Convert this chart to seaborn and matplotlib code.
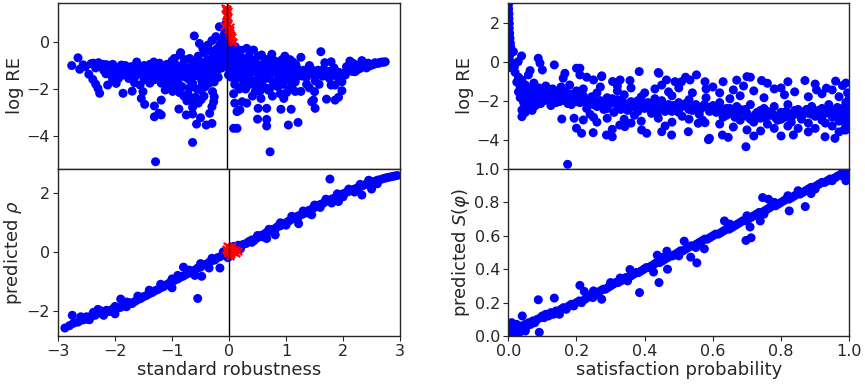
import matplotlib
matplotlib.use("Agg")
import matplotlib.pyplot as plt
import pandas as pd
import seaborn as sns

# --- data (x, y) ------------------------------------------------------------
# left column: standard robustness vs log RE (top) and predicted rho (bottom)
robust_logre_blue = [
    (-2.72, -1.00), (-2.61, -0.67), (-2.58, -1.16), (-2.52, -0.97), (-2.48, -1.05),
    (-2.42, -1.37), (-2.35, -1.59), (-2.30, -1.79), (-2.26, -1.97), (-2.23, -2.18),
    (-2.38, -0.92), (-2.34, -0.90), (-2.25, -0.88), (-2.16, -0.95), (-2.10, -0.97),
    (-2.30, -1.10), (-2.20, -1.05), (-2.16, -1.20), (-2.12, -1.35), (-2.05, -1.25),
    (-2.09, -1.83), (-2.00, -1.62), (-1.94, -1.76), (-2.02, -1.45), (-1.95, -1.30),
    (-1.90, -1.15), (-1.85, -0.98), (-1.82, -2.18), (-1.80, -1.40), (-1.75, -1.20),
    (-1.72, -1.55), (-1.66, -2.09), (-1.62, -1.73), (-1.52, -1.83), (-1.47, -2.11),
    (-1.50, -2.40), (-1.44, -2.65), (-1.68, -1.05), (-1.60, -1.25), (-1.55, -1.10),
    (-1.50, -1.35), (-1.45, -1.00), (-1.40, -1.20), (-1.38, -1.55), (-1.35, -0.95),
    (-1.30, -1.30), (-1.27, -1.60), (-1.25, -1.05), (-1.20, -1.40), (-1.18, -0.90),
    (-1.15, -1.75), (-1.10, -1.20), (-1.08, -2.04), (-1.05, -0.95), (-1.02, -1.50),
    (-1.00, -1.10), (-0.98, -1.85), (-0.95, -1.30), (-0.92, -0.70), (-0.90, -1.60),
    (-0.88, -1.00), (-0.85, -1.40), (-0.82, -0.55), (-0.81, -0.45), (-0.80, -1.20),
    (-0.78, -1.90), (-0.75, -0.85), (-0.72, -1.50), (-0.70, -1.10), (-0.68, -2.20),
    (-0.65, -0.70), (-0.63, -1.35), (-0.60, -1.75), (-0.58, -0.95), (-0.55, -1.20),
    (-0.52, -2.00), (-0.50, -0.60), (-0.48, -1.45), (-0.46, -0.85), (-0.44, -1.65),
    (-0.42, -1.10), (-0.40, -0.45), (-0.38, -1.90), (-0.36, -1.30), (-0.34, -0.75),
    (-0.32, -1.55), (-0.30, -1.00), (-0.28, -0.40), (-0.26, -1.25), (-0.24, -0.65),
    (-0.22, -1.70), (-0.20, -0.90), (-0.18, -0.30), (-0.16, -1.20), (-0.14, -0.55),
    (-0.12, -0.10), (-0.10, -0.80), (-0.08, 0.10), (-0.06, -0.40), (-0.04, 0.35),
    (-0.02, -0.20), (-0.03, 0.60), (-0.01, 0.80),
    (-1.58, -0.85), (-1.52, -1.15), (-1.42, -1.30), (-1.33, -1.10), (-1.28, -0.85),
    (-1.22, -1.25), (-1.12, -1.05), (-1.08, -1.35), (-0.98, -1.20), (-0.96, -0.80),
    (-0.90, -1.35), (-0.87, -1.15), (-0.78, -1.05), (-0.77, -1.45), (-0.73, -0.75),
    (-0.68, -1.25), (-0.66, -1.60), (-0.62, -1.05), (-0.57, -1.45), (-0.53, -0.80),
    (-0.51, -1.30), (-0.47, -1.05), (-0.43, -1.85), (-0.41, -1.40), (-0.37, -0.95),
    (-0.33, -1.20), (-0.31, -1.75), (-0.27, -0.90), (-0.23, -1.45), (-0.21, -1.05),
    (-0.17, -0.70), (-0.15, -1.50), (-0.11, -0.45), (-0.09, -1.10), (-0.07, -0.65),
    (-0.05, -0.15), (-0.03, -0.95), (-0.02, 0.30),
    (-2.00, -0.95), (-1.78, -1.00), (-1.62, -1.05), (-1.48, -1.20), (-1.32, -1.45),
    (-1.18, -1.60), (-0.92, -1.95), (-0.83, -2.15), (-0.62, -2.45), (-0.45, -2.45),
    (-1.27, -2.72), (-1.15, -2.47), (-1.27, -3.18), (-1.19, -3.03), (-1.15, -3.10),
    (-1.25, -5.09), (-0.84, -2.85), (-0.71, -3.10), (-0.60, -2.78), (-0.60, -3.06),
    (-0.60, -4.27), (-0.53, -3.49), (-0.46, -3.22), (-0.36, -3.53), (-0.26, -3.46),
    (-0.30, -3.03), (-0.26, -2.75), (-0.23, -2.54), (-0.22, -2.33), (-0.25, -2.11),
    (-0.57, 0.26), (-0.48, -0.06), (-0.42, -0.27), (-0.33, -0.13), (-0.26, 0.06),
    (-0.19, 0.23), (-0.13, 0.65),
    (-1.90, -1.55), (-1.70, -1.35), (-1.35, -1.75), (-1.05, -1.70), (-0.95, -2.10),
    (-0.75, -2.30), (-0.70, -2.50), (-0.65, -1.95), (-0.55, -2.35), (-0.50, -2.60),
    (-0.45, -2.05), (-0.40, -2.30), (-0.85, -1.75), (-1.12, -1.55), (-1.45, -1.60),
    (-1.60, -1.45), (-2.05, -1.05), (-1.85, -1.25),
    (0.02, 0.50), (0.04, 0.20), (0.06, -0.10), (0.08, 0.05), (0.10, -0.30),
    (0.05, -0.50), (0.12, -0.60), (0.15, -0.20), (0.18, -0.45), (0.20, -0.80),
    (0.02, -0.90), (0.05, -1.20), (0.08, -1.50), (0.10, -1.00), (0.14, -1.80),
    (0.03, -1.40), (0.12, -2.20),
    (0.03, -0.15), (0.06, -0.70), (0.09, -0.45), (0.11, -1.30), (0.13, -0.90),
    (0.16, -1.10), (0.19, -1.45), (0.22, -0.60), (0.24, -1.25), (0.27, -1.90),
    (0.29, -0.70), (0.31, -1.45), (0.34, -0.95), (0.37, -1.20), (0.39, -0.60),
    (0.43, -1.30), (0.46, -1.65), (0.49, -0.85), (0.53, -1.10), (0.56, -1.45),
    (0.59, -1.75), (0.62, -0.95), (0.66, -1.45), (0.69, -0.75), (0.72, -1.15),
    (0.75, -1.55), (0.78, -1.00), (0.81, -1.85), (0.84, -0.80), (0.87, -1.20),
    (0.90, -1.60), (0.93, -0.90), (0.96, -1.35), (0.99, -1.80), (1.03, -1.00),
    (1.07, -1.40), (1.11, -0.75), (1.14, -1.20), (1.18, -1.50), (1.21, -0.95),
    (1.28, -1.25), (1.33, -1.45), (0.04, -0.40), (0.07, -1.00), (0.16, -1.55),
    (0.22, -2.00), (0.36, -1.65), (0.58, -2.10), (0.75, -2.00), (0.95, -1.65),
    (1.20, -2.10), (0.50, -2.10),
    (0.25, -0.35), (0.30, -1.10), (0.35, -0.27), (0.38, -1.45), (0.42, -0.75),
    (0.47, -0.34), (0.50, -1.25), (0.52, -1.90), (0.55, -0.60), (0.58, -1.05),
    (0.61, -0.55), (0.64, -1.60), (0.67, -0.85), (0.70, -1.30), (0.73, -2.05),
    (0.76, -0.70), (0.79, -0.52), (0.82, -1.15), (0.85, -1.75), (0.88, -0.95),
    (0.91, -1.40), (0.94, -2.20), (0.97, -0.75), (1.00, -1.20), (1.02, -0.60),
    (1.05, -1.60), (1.08, -1.00), (1.10, -2.00), (1.13, -1.35), (1.16, -0.85),
    (1.20, -1.70), (1.23, -1.10), (1.26, -1.45), (1.30, -2.10),
    (0.28, -1.60), (0.33, -2.00), (0.40, -1.80), (0.45, -2.30), (0.60, -2.40),
    (0.68, -1.95), (0.80, -2.30), (0.90, -1.90), (1.00, -2.40), (1.05, -2.15),
    (0.25, -0.90), (0.45, -1.05), (0.65, -1.20), (0.85, -1.30), (0.95, -1.05),
    (0.35, -2.60), (0.27, -2.54), (0.14, -2.60), (0.18, -2.96), (0.23, -2.89),
    (0.12, -3.67), (0.18, -3.67), (0.55, -2.82), (0.54, -3.28), (0.70, -2.82),
    (0.70, -3.29), (0.70, -3.57), (0.95, -2.86), (1.13, -2.86), (1.08, -3.53),
    (1.25, -3.42), (0.76, -4.67),
    (1.54, -2.11), (1.52, -2.47), (1.49, -2.54), (1.55, -2.82), (2.02, -2.07),
    (1.96, -2.35), (1.90, -2.47), (1.75, -2.43),
    (1.35, -1.20), (1.40, -1.50), (1.45, -1.00), (1.50, -1.35), (1.55, -1.65),
    (1.60, -1.20), (1.65, -0.41), (1.68, -1.45), (1.72, -0.88), (1.75, -1.30),
    (1.80, -1.55), (1.83, -0.84), (1.85, -1.40), (1.90, -1.83), (1.92, -1.25),
    (1.95, -1.50), (2.02, -1.69), (2.05, -1.35), (2.08, -1.40), (2.12, -1.20),
    (2.16, -0.81), (2.20, -1.10), (2.22, -0.91), (2.25, -1.26), (2.30, -1.00),
    (2.34, -1.12), (2.37, -0.79), (2.42, -0.95), (2.48, -0.90), (2.54, -0.98),
    (2.60, -0.88), (2.66, -0.91), (2.72, -0.85), (2.78, -0.84), (1.83, -1.83),
    (1.40, -1.80), (1.30, -0.65), (1.15, -1.80), (1.45, -1.95), (1.62, -1.80),
    (1.38, -1.35), (1.48, -1.15), (1.58, -1.40), (1.70, -1.15), (1.78, -1.25),
    (1.88, -1.10), (1.98, -1.30), (2.10, -1.05), (2.28, -1.20), (2.45, -1.10),
    (2.58, -0.95), (2.68, -0.87), (2.75, -0.86), (2.50, -1.02), (2.40, -0.93),
    (2.20, -1.25),
]
robust_logre_red = [
    (-0.03, 1.45), (-0.02, 1.35), (0.00, 1.40), (0.01, 1.25), (-0.01, 1.15),
    (0.02, 1.05), (0.00, 0.95), (-0.02, 0.85), (0.03, 0.75), (0.05, 0.65),
    (0.06, 0.50), (0.04, 0.40), (0.07, 0.30), (0.09, 0.20), (0.08, 0.10),
    (0.11, 0.02), (0.05, 0.25), (0.02, 0.55), (-0.04, 0.70), (0.03, 1.30),
]
robust_pred_blue = [
    (-2.88, -2.58), (-2.80, -2.50), (-2.75, -2.15), (-2.73, -2.42), (-2.65, -2.38),
    (-2.60, -2.32), (-2.55, -2.30), (-2.50, -2.20), (-2.48, -2.28), (-2.42, -2.18),
    (-2.38, -2.05), (-2.35, -2.15), (-2.30, -2.08), (-2.25, -2.00), (-2.20, -2.06),
    (-2.15, -1.98), (-2.10, -2.02), (-2.05, -1.95), (-2.00, -1.98), (-1.95, -1.90),
    (-1.90, -1.88), (-1.85, -1.80), (-1.80, -1.86), (-1.75, -1.72), (-1.70, -1.75),
    (-1.65, -1.68), (-1.60, -1.62), (-1.55, -1.58), (-1.50, -1.52), (-1.45, -1.48),
    (-1.40, -1.42), (-1.35, -1.38), (-1.30, -1.32), (-1.25, -1.28), (-1.20, -1.22),
    (-1.15, -1.18), (-1.10, -1.12), (-1.05, -1.06), (-1.00, -1.02), (-0.95, -0.96),
    (-0.90, -0.92), (-0.85, -0.86), (-0.80, -0.82), (-0.80, -0.52), (-0.75, -0.76),
    (-0.70, -0.72), (-0.65, -0.66), (-0.60, -0.62), (-0.55, -1.58), (-0.55, -0.55),
    (-0.50, -0.52), (-0.48, -0.83), (-0.45, -0.45), (-0.40, -0.42), (-0.35, -0.36),
    (-0.30, -0.30), (-0.25, -0.28), (-0.20, -0.20), (-0.16, -0.55), (-0.15, -0.16),
    (-0.10, -0.10), (-0.05, -0.05), (-0.02, -0.20),
    (-2.60, -2.20), (-2.30, -1.95), (-2.00, -1.85), (-1.80, -1.70), (-1.60, -1.50),
    (-1.40, -1.30), (-1.20, -1.10), (-1.00, -0.92), (-0.90, -0.80), (-0.70, -0.62),
    (-0.50, -0.40), (-0.30, -0.22), (-0.10, 0.00), (-1.90, -1.60), (-1.00, -1.22),
    (-0.35, -0.55), (-0.60, -0.80), (-2.00, -2.10), (-2.20, -2.15), (-2.45, -2.30),
    (0.03, 0.12), (0.08, 0.18), (0.12, 0.15), (0.16, 0.22), (0.20, 0.20),
    (0.25, 0.25), (0.30, 0.28), (0.35, 0.35), (0.40, 0.40), (0.44, 0.38),
    (0.48, 0.46), (0.52, 0.50), (0.56, 0.55), (0.60, 0.58), (0.65, 0.64),
    (0.70, 0.68), (0.75, 0.74), (0.80, 0.78), (0.81, 0.57), (0.85, 0.85),
    (0.90, 0.88), (0.95, 0.94), (1.00, 0.98), (1.05, 1.04), (1.10, 1.10),
    (1.15, 1.12), (1.20, 1.20), (1.25, 1.24), (1.30, 1.28), (1.35, 1.34),
    (1.40, 1.40), (1.45, 1.25), (1.45, 1.44), (1.50, 1.50), (1.55, 1.54),
    (1.60, 1.60), (1.65, 1.64), (1.70, 1.70), (1.75, 1.74), (1.77, 2.46),
    (1.80, 1.78), (1.85, 1.82), (1.90, 1.88), (1.92, 1.70), (1.95, 1.92),
    (2.00, 1.96), (2.05, 2.00), (2.10, 2.04), (2.15, 2.08), (2.20, 2.12),
    (2.25, 2.16), (2.30, 2.20), (2.33, 1.92), (2.35, 2.24), (2.40, 2.28),
    (2.45, 2.32), (2.50, 2.36), (2.50, 2.12), (2.55, 2.38), (2.60, 2.42),
    (2.65, 2.44), (2.70, 2.47), (2.75, 2.50), (2.80, 2.52), (2.85, 2.54),
    (2.90, 2.56), (2.95, 2.58),
    (0.20, 0.10), (0.40, 0.32), (0.60, 0.50), (0.80, 0.70), (1.00, 0.90),
    (1.20, 1.10), (1.40, 1.30), (1.60, 1.50), (1.80, 1.65), (2.00, 1.86),
    (2.20, 2.02), (0.50, 0.55), (0.70, 0.76), (0.90, 0.98), (1.10, 1.20),
    (1.30, 1.38), (1.50, 1.58), (1.70, 1.78), (1.90, 1.96), (2.10, 2.12),
    (2.30, 2.28), (2.45, 2.42), (0.66, 0.45), (1.22, 0.95), (2.60, 2.30),
]
robust_pred_red = [
    (-0.06, 0.10), (-0.04, 0.02), (-0.02, -0.05), (0.00, 0.15), (0.02, 0.05),
    (0.04, -0.08), (0.06, 0.08), (0.08, -0.02), (0.10, 0.05), (0.13, -0.05),
    (0.15, 0.02), (0.01, -0.15), (-0.03, 0.20), (0.05, 0.18), (0.03, -0.02),
]

# right column: satisfaction probability vs log RE (top) and predicted S (bottom)
prob_logre = [
    (0.001, 2.95), (0.001, 2.70), (0.002, 2.45), (0.002, 2.20), (0.003, 1.95),
    (0.003, 1.70), (0.004, 1.45), (0.005, 1.20), (0.006, 0.95), (0.007, 0.75),
    (0.008, 0.60), (0.004, 0.30), (0.006, 0.00), (0.005, -0.30),
    (0.015, 0.51), (0.039, 0.29), (0.029, 0.00), (0.018, -0.26), (0.088, 0.17),
    (0.093, -0.08), (0.100, -0.43), (0.064, -0.46), (0.059, -0.68), (0.135, -0.17),
    (0.166, -0.60), (0.161, -0.85), (0.210, -0.34), (0.274, -0.73), (0.384, -0.51),
    (0.442, -0.60),
    (0.020, -0.55), (0.030, -0.80), (0.025, -1.05), (0.035, -1.30), (0.040, -0.95),
    (0.045, -1.55), (0.050, -1.20), (0.055, -1.75), (0.045, -2.10), (0.040, -2.48),
    (0.040, -2.82), (0.060, -2.30), (0.065, -1.45), (0.070, -1.90), (0.075, -1.10),
    (0.080, -1.60), (0.085, -2.05), (0.090, -1.35), (0.095, -1.75), (0.100, -1.55),
    (0.105, -2.00), (0.110, -1.25), (0.115, -1.70), (0.120, -1.50), (0.125, -1.90),
    (0.130, -1.40), (0.135, -1.65), (0.140, -2.10), (0.145, -1.50), (0.150, -1.80),
    (0.155, -1.30), (0.160, -1.70), (0.165, -2.00), (0.170, -1.55), (0.175, -1.85),
    (0.180, -1.20), (0.185, -2.20), (0.190, -1.65), (0.195, -1.95), (0.200, -1.50),
    (0.060, -1.55), (0.070, -1.65), (0.080, -1.80), (0.090, -1.60), (0.100, -1.85),
    (0.110, -1.70), (0.120, -1.60), (0.130, -1.85), (0.140, -1.75), (0.150, -1.60),
    (0.160, -1.90), (0.170, -1.75), (0.180, -1.85), (0.190, -1.95), (0.060, -2.00),
    (0.080, -2.25), (0.050, -2.60), (0.070, -2.50),
    (0.030, -1.55), (0.035, -1.85), (0.040, -1.65), (0.050, -1.90), (0.055, -1.40),
    (0.065, -2.10), (0.075, -1.85), (0.085, -1.45), (0.095, -2.15), (0.105, -1.65),
    (0.115, -1.95), (0.125, -2.25), (0.140, -1.55), (0.150, -2.05), (0.165, -1.50),
    (0.175, -2.15), (0.185, -1.70), (0.200, -2.05), (0.210, -1.85), (0.230, -2.15),
    (0.245, -1.80), (0.260, -2.30), (0.275, -2.05), (0.290, -2.40), (0.305, -1.90),
    (0.320, -2.25), (0.335, -2.05), (0.350, -2.40), (0.365, -2.30), (0.380, -2.55),
    (0.395, -2.15), (0.410, -2.35), (0.425, -2.20), (0.440, -2.55), (0.455, -2.20),
    (0.470, -2.40), (0.485, -2.25), (0.500, -2.60), (0.515, -2.25), (0.530, -2.45),
    (0.545, -2.30), (0.560, -2.40), (0.575, -2.20), (0.590, -2.35), (0.605, -2.50),
    (0.620, -2.30), (0.635, -2.60), (0.650, -2.40), (0.665, -2.85), (0.680, -2.60),
    (0.695, -2.45), (0.710, -2.95), (0.725, -2.70), (0.740, -2.50), (0.755, -2.85),
    (0.770, -2.60), (0.785, -2.90), (0.800, -2.75), (0.815, -2.55), (0.830, -2.85),
    (0.845, -2.60), (0.860, -2.80), (0.875, -2.45), (0.890, -2.70), (0.905, -2.55),
    (0.920, -2.75), (0.935, -2.45), (0.950, -2.65), (0.965, -2.35), (0.980, -2.80),
    (0.990, -2.50), (0.995, -2.25), (0.985, -2.95), (1.000, -3.10), (1.000, -2.70),
    (0.157, -2.94), (0.174, -5.26), (0.193, -2.90), (0.200, -3.41), (0.215, -3.67),
    (0.220, -2.99), (0.249, -3.64), (0.250, -2.85), (0.288, -3.76), (0.305, -3.85),
    (0.305, -3.47), (0.327, -3.25), (0.342, -3.33), (0.391, -3.50), (0.406, -3.67),
    (0.450, -3.59), (0.479, -3.76),
    (0.200, -0.34), (0.210, -0.68), (0.230, -0.80), (0.250, -0.94), (0.274, -0.77),
    (0.306, -1.02), (0.328, -0.94), (0.357, -0.97), (0.440, -0.56), (0.464, -0.94),
    (0.489, -1.03), (0.508, -1.03), (0.533, -0.94), (0.552, -0.68), (0.577, -1.03),
    (0.630, -1.03), (0.700, -0.77), (0.710, -0.80), (0.743, -0.97), (0.760, -1.11),
    (0.820, -1.03), (0.870, -0.97), (0.980, -1.23), (0.990, -1.10), (0.904, -1.45),
    (0.933, -1.36), (0.320, -1.25), (0.450, -1.20), (0.600, -1.30), (0.690, -1.25),
    (0.800, -1.35), (0.900, -1.15), (0.960, -1.00), (0.520, -0.80), (0.670, -0.95),
    (0.21, -2.10), (0.22, -1.75), (0.23, -2.40), (0.24, -1.95), (0.25, -2.20),
    (0.26, -1.60), (0.27, -2.00), (0.28, -2.45), (0.29, -1.85), (0.30, -2.15),
    (0.31, -2.60), (0.32, -1.95), (0.33, -2.30), (0.34, -1.70), (0.35, -2.50),
    (0.36, -2.05), (0.37, -2.75), (0.38, -2.25), (0.39, -1.80), (0.40, -2.40),
    (0.41, -2.10), (0.42, -2.65), (0.43, -1.90), (0.44, -2.30), (0.45, -2.00),
    (0.46, -2.55), (0.47, -2.20), (0.48, -1.75), (0.49, -2.45), (0.50, -2.10),
    (0.51, -2.80), (0.52, -2.30), (0.53, -1.95), (0.54, -2.50), (0.55, -2.20),
    (0.56, -2.70), (0.57, -2.35), (0.58, -1.85), (0.59, -2.55), (0.60, -2.25),
    (0.22, -1.40), (0.27, -1.30), (0.32, -1.50), (0.36, -1.35), (0.40, -1.60),
    (0.43, -1.40), (0.47, -1.55), (0.50, -1.35), (0.54, -1.60), (0.58, -1.40),
    (0.24, -2.70), (0.29, -2.90), (0.34, -2.95), (0.39, -3.05), (0.44, -2.90),
    (0.48, -3.10), (0.53, -2.95), (0.57, -3.00),
    (0.25, -2.00), (0.30, -2.05), (0.35, -2.20), (0.40, -2.25), (0.45, -2.35),
    (0.50, -2.40), (0.55, -2.45), (0.60, -2.40), (0.28, -2.25), (0.33, -2.45),
    (0.38, -2.00), (0.42, -2.45), (0.48, -2.55), (0.52, -2.15), (0.56, -2.55),
    (0.61, -2.60), (0.62, -2.10), (0.63, -2.85), (0.64, -2.40), (0.65, -1.90),
    (0.66, -2.70), (0.67, -2.30), (0.68, -3.00), (0.69, -2.55), (0.70, -2.80),
    (0.71, -2.20), (0.72, -3.10), (0.73, -2.60), (0.74, -2.90), (0.75, -2.40),
    (0.76, -3.20), (0.77, -2.75), (0.78, -2.30), (0.79, -3.00), (0.80, -2.60),
    (0.81, -2.85), (0.82, -2.20), (0.83, -3.10), (0.84, -2.70), (0.85, -2.45),
    (0.86, -2.95), (0.87, -2.55), (0.88, -3.15), (0.89, -2.30), (0.90, -2.80),
    (0.91, -2.50), (0.92, -3.00), (0.93, -2.65), (0.94, -2.20), (0.95, -2.85),
    (0.96, -2.45), (0.97, -3.05), (0.98, -2.60), (0.99, -2.10), (0.995, -2.80),
    (1.00, -2.40), (0.995, -1.60), (0.99, -3.30), (1.00, -1.90), (0.985, -3.50),
    (0.62, -2.45), (0.66, -2.55), (0.70, -2.65), (0.74, -2.70), (0.78, -2.75),
    (0.82, -2.70), (0.86, -2.70), (0.90, -2.60), (0.94, -2.55), (0.98, -2.40),
    (0.64, -2.75), (0.68, -2.45), (0.72, -2.85), (0.76, -2.55), (0.80, -2.95),
    (0.84, -2.50), (0.88, -2.65), (0.92, -2.40), (0.96, -2.70),
    (0.62, -1.60), (0.66, -1.45), (0.68, -1.75), (0.72, -1.50), (0.75, -1.85),
    (0.78, -1.40), (0.81, -1.70), (0.84, -1.55), (0.88, -1.80), (0.92, -1.65),
    (0.95, -1.45), (0.97, -1.80),
    (0.590, -3.93), (0.587, -4.00), (0.628, -3.76), (0.645, -3.88), (0.697, -4.36),
    (0.720, -3.81), (0.800, -3.81), (0.836, -3.76), (0.929, -3.85), (0.958, -3.93),
    (0.900, -3.42), (0.850, -3.42), (0.780, -3.42), (0.528, -3.59), (0.557, -3.16),
    (0.577, -3.13), (0.990, -3.50), (0.660, -3.35), (0.740, -3.55), (0.950, -3.30),
    (0.260, -3.10), (0.360, -3.15), (0.460, -3.30), (0.620, -3.20), (0.700, -3.50),
    (0.820, -3.30), (0.880, -3.60), (0.930, -3.15), (0.970, -3.60),
]
prob_pred = [
    (0.000, 0.03), (0.002, 0.07), (0.004, 0.00), (0.006, 0.05), (0.008, 0.02),
    (0.010, 0.08), (0.012, 0.04), (0.015, 0.01), (0.018, 0.06), (0.020, 0.03),
    (0.024, 0.07), (0.028, 0.04), (0.032, 0.02), (0.036, 0.06), (0.041, 0.12),
    (0.045, 0.05), (0.050, 0.07), (0.055, 0.06), (0.060, 0.08), (0.066, 0.07),
    (0.072, 0.09), (0.078, 0.08), (0.085, 0.10), (0.088, 0.217), (0.091, 0.022),
    (0.095, 0.11), (0.100, 0.12), (0.105, 0.11), (0.110, 0.13), (0.118, 0.12),
    (0.125, 0.14), (0.132, 0.13), (0.135, 0.227), (0.140, 0.15), (0.148, 0.14),
    (0.155, 0.16), (0.162, 0.17), (0.170, 0.16), (0.178, 0.18), (0.185, 0.19),
    (0.192, 0.18), (0.200, 0.20), (0.208, 0.21), (0.210, 0.303), (0.215, 0.20),
    (0.223, 0.267), (0.225, 0.22), (0.232, 0.23), (0.240, 0.24), (0.248, 0.23),
    (0.255, 0.25), (0.262, 0.26), (0.270, 0.27), (0.274, 0.22), (0.278, 0.28),
    (0.285, 0.28), (0.292, 0.29), (0.300, 0.30), (0.308, 0.31), (0.315, 0.32),
    (0.322, 0.32), (0.328, 0.347), (0.330, 0.33), (0.338, 0.34), (0.345, 0.35),
    (0.352, 0.35), (0.357, 0.398), (0.360, 0.36), (0.368, 0.37), (0.375, 0.38),
    (0.382, 0.38), (0.385, 0.26), (0.390, 0.39), (0.398, 0.40), (0.405, 0.41),
    (0.412, 0.41), (0.420, 0.42), (0.426, 0.383), (0.428, 0.43), (0.435, 0.44),
    (0.437, 0.484), (0.442, 0.32), (0.444, 0.44), (0.452, 0.45), (0.460, 0.46),
    (0.465, 0.508), (0.467, 0.40), (0.468, 0.47), (0.475, 0.48), (0.482, 0.48),
    (0.490, 0.49), (0.498, 0.50), (0.505, 0.51), (0.512, 0.51), (0.516, 0.568),
    (0.520, 0.52), (0.528, 0.53), (0.535, 0.472), (0.536, 0.54), (0.544, 0.54),
    (0.552, 0.55), (0.553, 0.438), (0.560, 0.56), (0.568, 0.57), (0.575, 0.522),
    (0.576, 0.58), (0.584, 0.58), (0.592, 0.59), (0.600, 0.60), (0.608, 0.61),
    (0.616, 0.61), (0.624, 0.62), (0.632, 0.63), (0.634, 0.689), (0.640, 0.64),
    (0.648, 0.64), (0.656, 0.65), (0.664, 0.66), (0.672, 0.67), (0.680, 0.68),
    (0.688, 0.69), (0.696, 0.69), (0.697, 0.572), (0.704, 0.70), (0.709, 0.653),
    (0.712, 0.588), (0.712, 0.71), (0.720, 0.72), (0.728, 0.73), (0.736, 0.74),
    (0.739, 0.689), (0.744, 0.74), (0.746, 0.829), (0.752, 0.75), (0.760, 0.76),
    (0.763, 0.819), (0.768, 0.77), (0.776, 0.78), (0.784, 0.78), (0.792, 0.79),
    (0.800, 0.80), (0.808, 0.81), (0.816, 0.82), (0.824, 0.749), (0.824, 0.82),
    (0.832, 0.83), (0.840, 0.84), (0.848, 0.85), (0.856, 0.85), (0.864, 0.86),
    (0.871, 0.775), (0.872, 0.87), (0.880, 0.88), (0.888, 0.853), (0.888, 0.89),
    (0.896, 0.89), (0.904, 0.90), (0.912, 0.91), (0.920, 0.92), (0.928, 0.92),
    (0.936, 0.93), (0.944, 0.94), (0.952, 0.94), (0.960, 0.95), (0.968, 0.96),
    (0.976, 0.96), (0.984, 0.97), (0.990, 0.98), (0.995, 0.95), (1.000, 0.99),
    (1.000, 0.96), (0.998, 1.00),
    (0.15, 0.13), (0.25, 0.27), (0.35, 0.33), (0.45, 0.47), (0.55, 0.53),
    (0.65, 0.67), (0.75, 0.73), (0.85, 0.87), (0.95, 0.93), (0.05, 0.03),
    (0.30, 0.32), (0.50, 0.48), (0.70, 0.72), (0.90, 0.88), (0.78, 0.80),
    (0.82, 0.84), (0.98, 1.00), (0.99, 0.93),
]


def to_df(pairs):
    return pd.DataFrame(pairs, columns=["x", "y"])


sns.set_style("ticks")
plt.rcParams["font.family"] = ["DejaVu Sans"]
plt.rcParams.update({
    "axes.edgecolor": ".15",
    "axes.linewidth": 1.0,
    "xtick.major.size": 3.5,
    "ytick.major.size": 3.5,
    "xtick.major.pad": 2.5,
    "ytick.major.pad": 2.5,
    "xtick.labelsize": 11.5,
    "ytick.labelsize": 11.5,
    "axes.labelsize": 13,
    "axes.labelpad": 1.5,
})

BLUE = "#0000ff"
RED = "#ff0000"
DOT = dict(color=BLUE, s=42, linewidth=0, edgecolor="none")
CROSS = dict(color=RED, marker="x", s=28, linewidth=1.6)

fig = plt.figure(figsize=(8.65, 3.84), dpi=100)
ax_lt = fig.add_axes([0.0671, 0.5599, 0.3954, 0.4323])
ax_lb = fig.add_axes([0.0671, 0.1250, 0.3954, 0.4349])
ax_rt = fig.add_axes([0.5876, 0.5599, 0.3942, 0.4323])
ax_rb = fig.add_axes([0.5876, 0.1250, 0.3942, 0.4349])

# left top: log RE vs standard robustness
sns.scatterplot(data=to_df(robust_logre_blue), x="x", y="y", ax=ax_lt, **DOT)
sns.scatterplot(data=to_df(robust_logre_red), x="x", y="y", ax=ax_lt, **CROSS)
ax_lt.axvline(0, color="black", linewidth=1)
ax_lt.set_xlim(-2.96, 3.04)
ax_lt.set_ylim(-5.4, 1.66)
ax_lt.set_yticks([0, -2, -4])
ax_lt.set_xticks([])
ax_lt.set_xlabel("")
ax_lt.set_ylabel("log RE")

# left bottom: predicted rho
sns.scatterplot(data=to_df(robust_pred_blue), x="x", y="y", ax=ax_lb, **DOT)
sns.scatterplot(data=to_df(robust_pred_red), x="x", y="y", ax=ax_lb, **CROSS)
ax_lb.axvline(0, color="black", linewidth=1)
ax_lb.set_xlim(-3, 3)
ax_lb.set_ylim(-2.85, 2.8)
ax_lb.set_xticks([-3, -2, -1, 0, 1, 2, 3])
ax_lb.set_yticks([-2, 0, 2])
ax_lb.set_xlabel("standard robustness")
ax_lb.set_ylabel(r"predicted $\rho$")

# right top: log RE vs satisfaction probability
sns.scatterplot(data=to_df(prob_logre), x="x", y="y", ax=ax_rt, **DOT)
ax_rt.set_xlim(0, 1)
ax_rt.set_ylim(-5.5, 3.0)
ax_rt.set_yticks([2, 0, -2, -4])
ax_rt.set_xticks([])
ax_rt.set_xlabel("")
ax_rt.set_ylabel("log RE")

# right bottom: predicted S(phi)
sns.scatterplot(data=to_df(prob_pred), x="x", y="y", ax=ax_rb, **DOT)
ax_rb.set_xlim(0, 1)
ax_rb.set_ylim(0, 1)
ticks = [0.0, 0.2, 0.4, 0.6, 0.8, 1.0]
ax_rb.set_xticks(ticks)
ax_rb.set_yticks(ticks)
ax_rb.set_xticklabels([f"{t:.1f}" for t in ticks])
ax_rb.set_yticklabels([f"{t:.1f}" for t in ticks])
ax_rb.set_xlabel("satisfaction probability")
ax_rb.set_ylabel(r"predicted $S(\varphi)$")

fig.savefig("out.png", dpi=100)
